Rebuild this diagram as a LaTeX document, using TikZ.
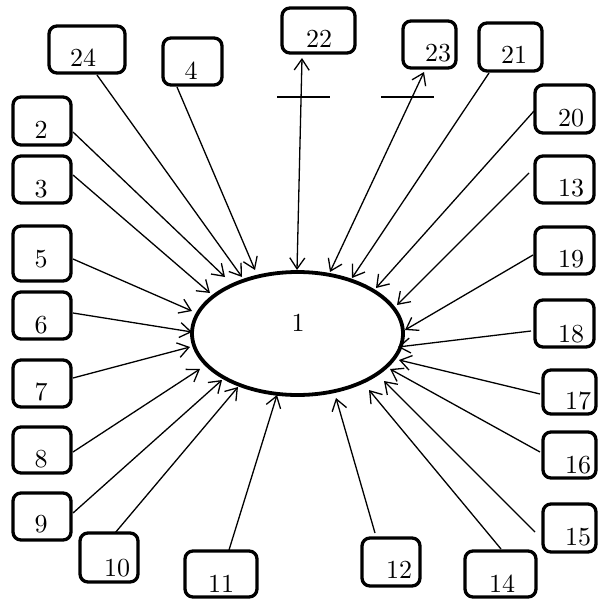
\documentclass[tikz,border=0pt]{standalone}
\usepackage{fontspec}
\setmainfont{lmroman10-regular}[Extension=.otf]
\usetikzlibrary{arrows.meta,shapes.geometric}
\newcommand\mybox[8]{%
  \node[box, minimum width={(#4-#2)*1pt}, minimum height={(#5-#3)*1pt}] (b#1) at ({(#2+#4)/2},{(#3+#5)/2}) {};
  \node[lab] (l#1) at (#7,#8) {#6};}
\newcommand\myarr[5]{%
  \coordinate (s#1) at (#2,#3); \coordinate (e#1) at (#4,#5);
  \draw[arr] (s#1) -- (e#1);}
\begin{document}
\begin{tikzpicture}[x=1pt,y=-1pt,
  box/.style={draw, line width=3.3pt, rounded corners=8pt, inner sep=0pt, outer sep=0pt},
  lab/.style={anchor=base, inner sep=0pt, font=\fontsize{26}{31}\selectfont},
  arr/.style={line width=1.3pt, -{Straight Barb[length=11pt,width=15pt,line width=1.3pt]}},
  darr/.style={line width=1.3pt, {Straight Barb[length=11pt,width=15pt,line width=1.3pt]}-{Straight Barb[length=11pt,width=15pt,line width=1.3pt]}},
  tick/.style={line width=1.2pt}]
\useasboundingbox (0,0) rectangle (597,599);
% central ellipse
\node[draw, ellipse, line width=3.8pt, minimum width=211pt, minimum height=123pt, inner sep=0pt] (c1) at (297.5,333.5) {};
\node[lab] (l1) at (298,331) {1};
% boxes
\mybox{24}{49}{26}{125}{73}{24}{83}{67}
\mybox{4}{163}{38}{222}{85}{4}{191}{80}
\mybox{22}{282}{8}{355}{53}{22}{319}{48}
\mybox{23}{403}{21}{456}{68}{23}{438}{62}
\mybox{21}{479}{23}{542}{71}{21}{514}{64}
\mybox{20}{535}{85}{594}{133}{20}{571}{126}
\mybox{13}{535}{156}{594}{203}{13}{571}{196}
\mybox{19}{535}{227}{594}{274}{19}{571}{267}
\mybox{18}{535}{300}{594}{347}{18}{571}{342}
\mybox{17}{543}{370}{596}{414}{17}{578}{409}
\mybox{16}{543}{432}{596}{478}{16}{578}{473}
\mybox{15}{543}{504}{596}{552}{15}{578}{545}
\mybox{14}{465}{551}{536}{597}{14}{502}{592}
\mybox{12}{362}{538}{420}{586}{12}{399}{578}
\mybox{11}{185}{551}{257}{597}{11}{221}{592}
\mybox{10}{80}{533}{138}{582}{10}{117}{576}
\mybox{9}{13}{493}{71}{540}{9}{41}{532}
\mybox{8}{13}{427}{71}{473}{8}{41}{467}
\mybox{7}{13}{360}{71}{407}{7}{41}{400}
\mybox{6}{13}{292}{71}{339}{6}{41}{333}
\mybox{5}{13}{226}{71}{281}{5}{41}{267}
\mybox{3}{13}{156}{71}{203}{3}{41}{197}
\mybox{2}{13}{97}{71}{145}{2}{41}{138}
% arrows
\myarr{24}{97}{75}{242}{277}
\myarr{4}{177}{87}{255}{270}
\myarr{2}{73}{132}{225}{277}
\myarr{3}{73}{175}{210}{293}
\myarr{5}{73}{259}{192}{311}
\myarr{6}{73}{313}{192}{332}
\myarr{7}{73}{378}{190}{347}
\myarr{8}{73}{452}{200}{369}
\myarr{9}{73}{513}{222}{380}
\myarr{10}{115}{533}{238}{387}
\myarr{11}{229}{550}{277}{395}
\myarr{12}{375}{533}{336}{398}
\myarr{14}{501}{549}{369}{390}
\myarr{15}{535}{532}{384}{381}
\myarr{16}{540}{452}{390}{369}
\myarr{17}{540}{394}{399}{360}
\myarr{18}{531}{331}{398}{347}
\myarr{19}{533}{255}{405}{330}
\myarr{13}{529}{173}{397}{305}
\myarr{20}{534}{111}{376}{288}
\myarr{21}{489}{73}{352}{278}
% double arrows
\coordinate (s22) at (302,58); \coordinate (e22) at (297,270);
\draw[darr] (s22) -- (e22);
\coordinate (s23) at (424,72); \coordinate (e23) at (330,272);
\draw[darr] (s23) -- (e23);
% tick lines
\coordinate (t1a) at (277,97); \coordinate (t1b) at (330,97);
\coordinate (t2a) at (381,97); \coordinate (t2b) at (434,97);
\draw[tick] (t1a) -- (t1b);
\draw[tick] (t2a) -- (t2b);
\end{tikzpicture}
\end{document}
